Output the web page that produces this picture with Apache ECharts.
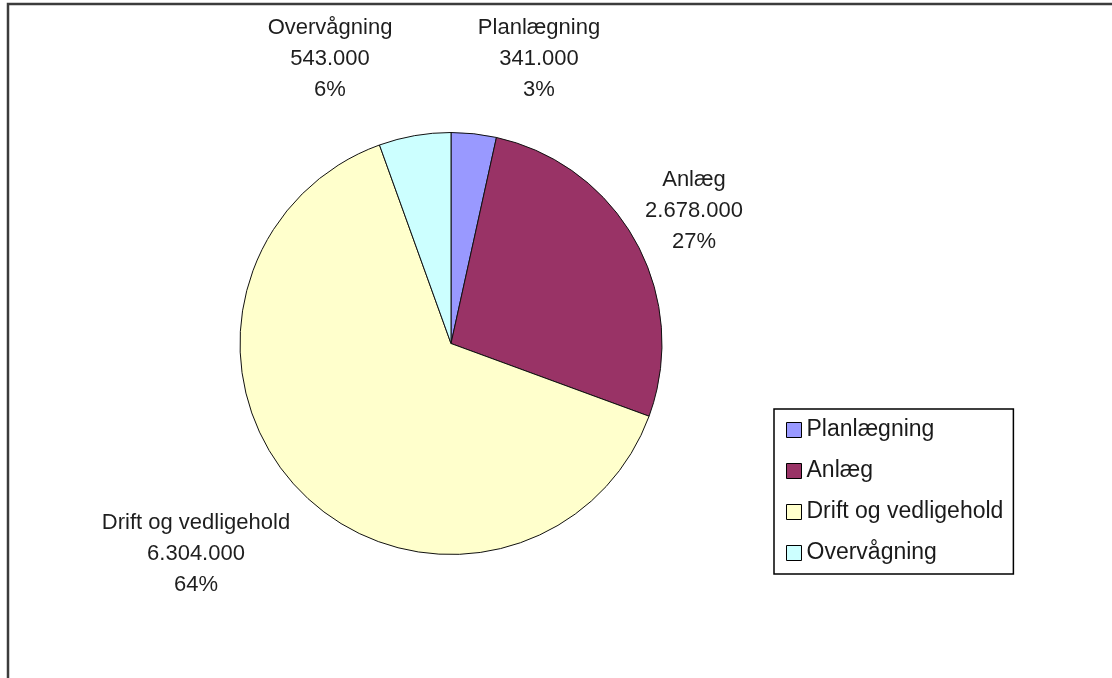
<!DOCTYPE html>
<html>
<head>
<meta charset="utf-8">
<script src="https://cdn.jsdelivr.net/npm/echarts@6/dist/echarts.min.js"></script>
<style>
html,body{margin:0;padding:0;background:#fff;}
#main{width:1112px;height:678px;}
</style>
</head>
<body>
<div id="main"></div>
<script>
const categories = ['Planlægning', 'Anlæg', 'Drift og vedligehold', 'Overvågning'];
const values = [341000, 2678000, 6304000, 543000];
const colors = ['#9999FF', '#993366', '#FFFFCC', '#CCFFFF'];

// label placement (offset of label centre from pie centre), style only
const labelOffsets = [[88, -285], [243, -133], [-255, 210], [-121, -285]];

const CX = 451, CY = 343.5, R = 211;
const total = values.reduce((a, b) => a + b, 0);
function fmtThousands(v) {
  return String(v).replace(/\B(?=(\d{3})+(?!\d))/g, '.');
}

const chart = echarts.init(document.getElementById('main'), null, {renderer: 'canvas'});
const FONT = '"Liberation Sans", Arial, sans-serif';

chart.setOption({
  animation: false,
  backgroundColor: '#ffffff',
  graphic: [{
    type: 'rect',
    shape: {x: 8, y: 4, width: 1300, height: 900},
    style: {fill: 'none', stroke: '#3c3c3c', lineWidth: 2.5},
    silent: true
  }],
  legend: {
    orient: 'vertical',
    left: 774,
    top: 409,
    padding: [9, 10, 9, 12],
    itemGap: 17,
    itemWidth: 15,
    itemHeight: 15,
    icon: 'rect',
    borderColor: '#000',
    borderWidth: 1.5,
    textStyle: {fontFamily: FONT, fontSize: 23, color: '#1a1a1a', lineHeight: 24},
    itemStyle: {borderColor: '#000', borderWidth: 1},
    data: categories
  },
  series: [{
    type: 'pie',
    center: [CX, CY],
    radius: [0, R],
    startAngle: 90,
    clockwise: true,
    avoidLabelOverlap: false,
    itemStyle: {borderColor: '#111', borderWidth: 1},
    emphasis: {disabled: true},
    label: {
      show: true,
      position: 'outside',
      fontFamily: FONT,
      fontSize: 22,
      lineHeight: 31,
      color: '#1e1e1e',
      align: 'center',
      formatter: function (p) {
        return p.name + '\n' + fmtThousands(p.value) + '\n' + Math.round(p.value / total * 100) + '%';
      }
    },
    labelLine: {show: false},
    labelLayout: function (params) {
      const o = labelOffsets[params.dataIndex];
      return {
        x: CX + o[0],
        y: CY + o[1],
        align: 'center',
        verticalAlign: 'middle'
      };
    },
    data: categories.map((c, i) => ({name: c, value: values[i], itemStyle: {color: colors[i]}}))
  }]
});
</script>
</body>
</html>
